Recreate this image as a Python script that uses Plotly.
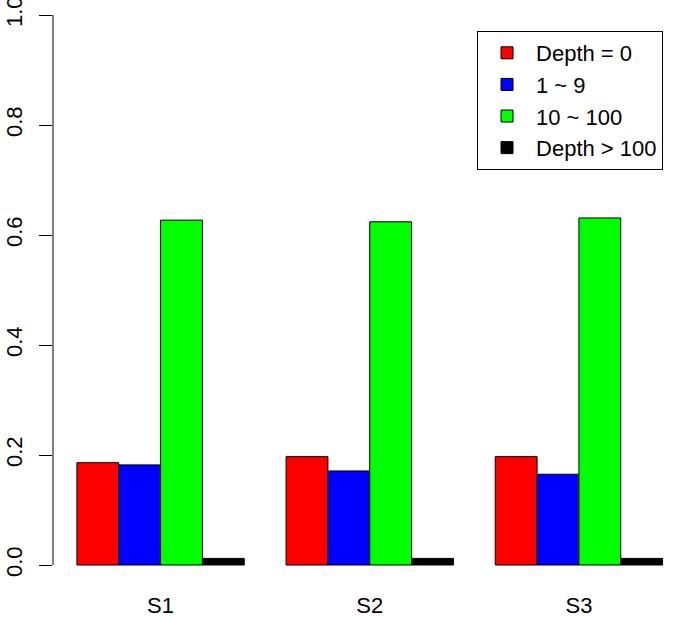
import plotly.graph_objects as go

samples = ["S1", "S2", "S3"]
series_names = ["Depth = 0", "1 ~ 9", "10 ~ 100", "Depth > 100"]
depth_0 = [0.186, 0.197, 0.197]
depth_1_9 = [0.182, 0.171, 0.165]
depth_10_100 = [0.627, 0.624, 0.631]
depth_gt_100 = [0.012, 0.012, 0.012]
series_values = [depth_0, depth_1_9, depth_10_100, depth_gt_100]
series_colors = ["#FF0000", "#0000FF", "#00FF00", "#000000"]
y_ticks = [0.0, 0.2, 0.4, 0.6, 0.8, 1.0]
y_tick_labels = ["0.0", "0.2", "0.4", "0.6", "0.8", "1.0"]

FONT = "Arial, Liberation Sans, sans-serif"

fig = go.Figure()
for name, vals, col in zip(series_names, series_values, series_colors):
    fig.add_trace(go.Bar(
        x=samples, y=vals, name=name,
        marker=dict(color=col, line=dict(color="black", width=1)),
    ))

fig.add_shape(type="line", xref="paper", yref="y", x0=0, x1=0,
              y0=y_ticks[0], y1=y_ticks[-1], line=dict(color="black", width=1))

fig.update_layout(
    width=675, height=617,
    margin=dict(l=53, r=0, t=15, b=30, pad=0, autoexpand=False),
    paper_bgcolor="white", plot_bgcolor="white",
    barmode="group", bargap=0.2, bargroupgap=0,
    font=dict(family=FONT, size=22, color="black"),
    xaxis=dict(range=[-0.5143, 2.4594], showline=False, showgrid=False,
               zeroline=False, ticks="", tickfont=dict(size=22),
               ticklabelstandoff=3, ticklabeloverflow="allow"),
    yaxis=dict(range=[-0.04, 1.0], tickvals=y_ticks, ticktext=y_tick_labels,
               showgrid=False, zeroline=False, showline=False,
               ticks="outside", ticklen=13, tickwidth=1, tickcolor="black",
               tickangle=-90, tickfont=dict(size=22), ticklabelstandoff=8,
               ticklabeloverflow="allow"),
    legend=dict(x=0.6817, y=0.972, xanchor="left", yanchor="top",
                bordercolor="black", borderwidth=1, bgcolor="white",
                font=dict(size=22), itemwidth=48, traceorder="normal"),
    showlegend=True,
)

fig.write_html("out.html", config={"displayModeBar": False},
               post_script="document.body.style.margin='0';document.body.style.overflow='hidden';")
